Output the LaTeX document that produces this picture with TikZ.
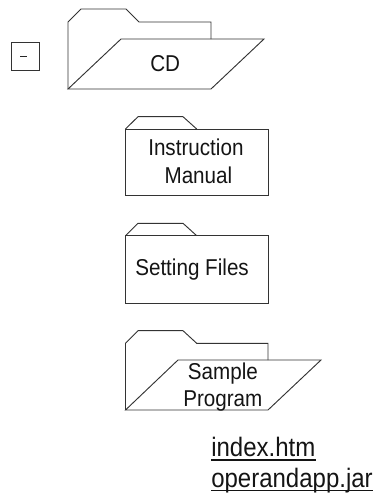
\documentclass[tikz,border=0pt]{standalone}
\usepackage{fontspec}
\setmainfont[FakeStretch=0.9]{Liberation Sans}
\tikzset{
  folderline/.style={draw=black!80, line width=0.7pt, line join=miter},
  label/.style={inner sep=0pt, font=\fontsize{17.2}{20.7}\selectfont, text=black!92, anchor=base west},
  linklabel/.style={inner sep=0pt, font=\fontsize{20}{23}\selectfont, text=black!92, anchor=base west},
  linkrule/.style={draw=black!92, line width=0.9pt},
}
\begin{document}
\begin{tikzpicture}[x=0.75pt,y=-0.75pt]
\useasboundingbox (0,0) rectangle (379,494);
% minus box
\node[draw=black!80, line width=0.7pt, minimum width=21pt, minimum height=20.5pt, inner sep=0pt] (minusbox) at (25,56.5) {};
\draw[black!85, line width=1.1pt] (20,56.7) -- (26.7,56.7);
% CD folder
\draw[folderline] (68,89) -- (68,22) -- (81,9) -- (126,9) -- (139,22) -- (211,22) -- (211,39);
\draw[folderline] (68,89) -- (121,39) -- (264,39) -- (211,89) -- cycle;
\node[label] (cd) at (150,71) {CD};
% Instruction Manual
\draw[folderline] (125.5,129) -- (138,116.7) -- (183,116.7) -- (196.7,129);
\draw[folderline] (125.5,129) rectangle (268,195.7);
\node[label] (im1) at (148,155.7) {Instruction};
\node[label] (im2) at (164.3,183.3) {Manual};
% Setting Files
\draw[folderline] (125.5,235.7) -- (138,223.3) -- (183,223.3) -- (196.7,235.7);
\draw[folderline] (125.5,235.7) rectangle (268,303.3);
\node[label] (sf) at (135,275.7) {Setting Files};
% Sample Program
\draw[folderline] (125.5,410) -- (125.5,343.3) -- (138,330.7) -- (183,330.7) -- (196.7,343.3) -- (268,343.3) -- (268,360);
\draw[folderline] (125.5,410) -- (178,360) -- (321,360) -- (268,410) -- cycle;
\node[label] (sp1) at (187.7,379) {Sample};
\node[label] (sp2) at (183,406) {Program};
% files
\node[linklabel] (idx) at (211,456.7) {index.htm};
\node[linklabel] (jar) at (211,487) {operandapp.jar};
\draw[linkrule] ([yshift=-2.4pt]idx.base west) -- ([yshift=-2.4pt]idx.base east);
\draw[linkrule] ([yshift=-2.4pt]jar.base west) -- ([yshift=-2.4pt]jar.base east);
\end{tikzpicture}
\end{document}
